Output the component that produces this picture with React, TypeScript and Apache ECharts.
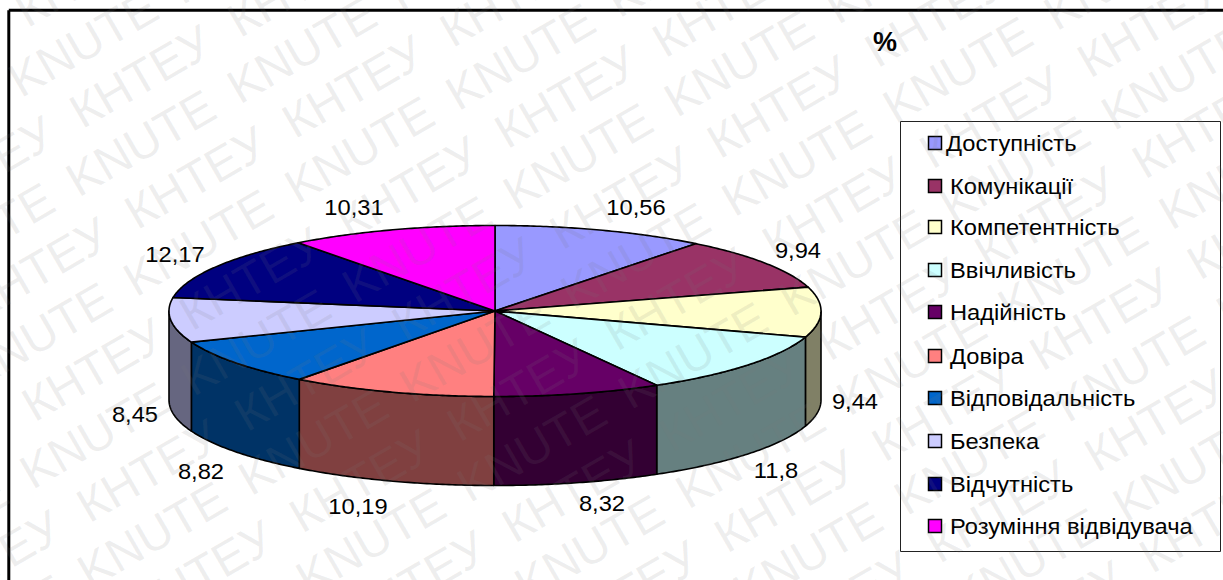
import React, { useEffect, useRef } from "react";
import * as echarts from "echarts";

const categories = [
  "Доступність",
  "Комунікації",
  "Компетентність",
  "Ввічливість",
  "Надійність",
  "Довіра",
  "Відповідальність",
  "Безпека",
  "Відчутність",
  "Розуміння відвідувача",
];
const values = [10.56, 9.94, 9.44, 11.8, 8.32, 10.19, 8.82, 8.45, 12.17, 10.31];
const topColors = ["#9999FF", "#993366", "#FFFFCC", "#CCFFFF", "#660066", "#FF8080", "#0066CC", "#CCCCFF", "#000080", "#FF00FF"];

// Centres of the value labels around the disc
const labelX = [636, 798, 855, 776, 602, 358, 201, 135, 175, 354];
const labelY = [207, 250, 401, 470, 503, 506, 471, 414, 254, 207];
// Legend row layout
const legendRowY = [143, 186, 227, 270, 312, 356, 398, 441, 484, 526];
const legendTextX = [946, 950, 950, 950, 950, 950, 950, 950, 950, 950];

const CX = 495;
const CY = 311;
const RX = 326;
const RY = 85.5;
const DEPTH = 89;
const TEXT_SCALE = 1.077;
const FONT = '"Liberation Sans", Arial, sans-serif';

const halfShade = (hex: string) => {
  const n = parseInt(hex.slice(1), 16);
  const r = (n >> 16) & 255;
  const g = (n >> 8) & 255;
  const b = n & 255;
  return `rgb(${Math.round(r / 2)},${Math.round(g / 2)},${Math.round(b / 2)})`;
};

// Rim point on the disc; angle runs clockwise from twelve o'clock
const rim = (a: number, dy = 0): [number, number] => [CX + RX * Math.sin(a), CY - RY * Math.cos(a) + dy];

const arcPoints = (from: number, to: number, dy = 0) => {
  const steps = Math.max(2, Math.ceil(Math.abs(to - from) / 0.01));
  const pts: [number, number][] = [];
  for (let i = 0; i <= steps; i++) pts.push(rim(from + ((to - from) * i) / steps, dy));
  return pts;
};

const total = values.reduce((s, v) => s + v, 0);

const renderSlice = (params: any, api: any) => {
  const i = params.dataIndex;
  const before = values.slice(0, i).reduce((s, v) => s + v, 0);
  const value = api.value(0);
  const start = (before / total) * Math.PI * 2;
  const end = ((before + value) / total) * Math.PI * 2;
  const children: any[] = [];

  // The side wall shows only on the near half of the disc
  const wallFrom = Math.max(start, Math.PI / 2);
  const wallTo = Math.min(end, (Math.PI * 3) / 2);
  if (wallTo > wallFrom) {
    const upper = arcPoints(wallFrom, wallTo);
    const lower = arcPoints(wallTo, wallFrom, DEPTH);
    children.push({
      type: "polygon",
      shape: { points: [...upper, ...lower] },
      style: { fill: halfShade(topColors[i]), stroke: "#000", lineWidth: 1.6, lineJoin: "round" },
    });
  }
  children.push({
    type: "polygon",
    shape: { points: [[CX, CY], ...arcPoints(start, end)] },
    style: { fill: topColors[i], stroke: "#000", lineWidth: 1.6, lineJoin: "round" },
  });
  children.push({
    type: "text",
    x: labelX[i],
    y: labelY[i],
    scaleX: TEXT_SCALE,
    style: {
      text: String(value).replace(".", ","),
      fill: "#000",
      font: `22px ${FONT}`,
      align: "center",
      verticalAlign: "middle",
    },
  });
  return { type: "group", children };
};

// Diagonal stamp over the whole sheet: rows of one repeated word, alternating
const STAMP_ANGLE = (30 * Math.PI) / 180;
const STAMP_SIZE = 48;
const STAMP_ROW_GAP = 57.5;
const stampWords = ["KNUTE", "КНТЕУ"];
const stampWordGap = [186, 182];
const stampRowStart = [-27, 12];
const stampRowDrift = [0, -1.5];
const stampFirstRow = 96.3 - STAMP_ROW_GAP * 2;

const stampTexts = () => {
  const items: any[] = [];
  const cos = Math.cos(STAMP_ANGLE);
  const sin = Math.sin(STAMP_ANGLE);
  for (let r = 0; r < 20; r++) {
    const rowIndex = r - 2;
    const v = stampFirstRow + STAMP_ROW_GAP * r - 17;
    const kind = r % 2;
    for (let k = -3; k < 8; k++) {
      const u = stampRowStart[kind] + stampRowDrift[kind] * rowIndex + stampWordGap[kind] * k - 4;
      const x = u * cos + v * sin;
      const y = -u * sin + v * cos;
      const ex = x + 165 * cos;
      const ey = y - 165 * sin;
      if (x > 1223 || ex < -20 || ey > 620 || y < -20) continue;
      items.push({
        type: "text",
        x,
        y,
        rotation: STAMP_ANGLE,
        z: 200,
        silent: true,
        style: {
          text: stampWords[kind],
          fill: "rgba(120,120,120,0.13)",
          font: `${STAMP_SIZE}px ${FONT}`,
          align: "left",
          verticalAlign: "middle",
        },
      });
    }
  }
  return items;
};

export default function App() {
  const ref = useRef<HTMLDivElement>(null);

  useEffect(() => {
    const chart = echarts.init(ref.current!, undefined, { renderer: "svg" });
    const legendItems: any[] = [];
    categories.forEach((name, i) => {
      legendItems.push({
        type: "rect",
        shape: { x: 928.5, y: legendRowY[i] - 6.5, width: 13, height: 13 },
        style: { fill: topColors[i], stroke: "#000", lineWidth: 1.5 },
        z: 20,
      });
      legendItems.push({
        type: "text",
        x: legendTextX[i],
        y: legendRowY[i],
        scaleX: TEXT_SCALE,
        z: 20,
        style: { text: name, fill: "#000", font: `22px ${FONT}`, align: "left", verticalAlign: "middle" },
      });
    });

    chart.setOption({
      animation: false,
      backgroundColor: "#fff",
      graphic: [
        // Sheet border: only the top and left rules fall on the page
        { type: "line", shape: { x1: 8.8, y1: 10.3, x2: 1223, y2: 10.3 }, style: { stroke: "#000", lineWidth: 3 }, z: 1 },
        { type: "line", shape: { x1: 8.8, y1: 10.3, x2: 8.8, y2: 580 }, style: { stroke: "#000", lineWidth: 3 }, z: 1 },
        {
          type: "text",
          x: 885,
          y: 42,
          z: 20,
          style: { text: "%", fill: "#000", font: `bold 27px ${FONT}`, align: "center", verticalAlign: "middle" },
        },
        {
          type: "rect",
          shape: { x: 900.5, y: 121.5, width: 320, height: 430 },
          style: { fill: "transparent", stroke: "#222", lineWidth: 1 },
          z: 19,
        },
        ...legendItems,
        ...stampTexts(),
      ],
      series: [
        {
          type: "custom",
          coordinateSystem: "none",
          silent: true,
          clip: false,
          data: values.map((v, i) => ({ name: categories[i], value: [v] })),
          renderItem: renderSlice,
        },
      ],
    });
    return () => chart.dispose();
  }, []);

  return <div ref={ref} style={{ position: "fixed", left: 0, top: 0, width: 1223, height: 580 }} />;
}
